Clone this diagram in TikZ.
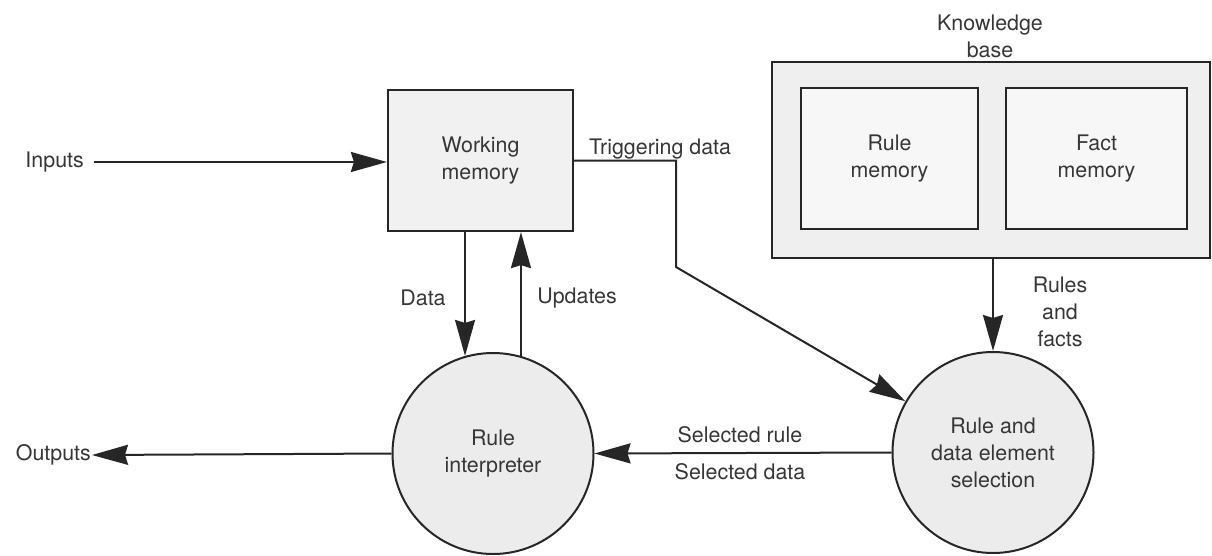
\documentclass[tikz,border=0pt]{standalone}
\usepackage{fontspec}
\setmainfont{TeX Gyre Heros}
\usetikzlibrary{arrows.meta,calc}
\definecolor{ink}{HTML}{262626}
\definecolor{txt}{HTML}{363636}
\definecolor{boxfill}{HTML}{F1F1F1}
\definecolor{kbfill}{HTML}{EFEFEF}
\definecolor{innerfill}{HTML}{F7F7F7}
\definecolor{discfill}{HTML}{ECECEC}
\tikzset{
  every node/.style={font=\fontsize{21.4}{27}\selectfont, text=txt},
  store/.style={draw=ink, line width=2.2pt, rectangle, inner sep=0pt, align=center},
  process/.style={draw=ink, line width=2pt, circle, fill=discfill, minimum size=201pt, inner sep=0pt, align=center},
  lbl/.style={align=center, inner sep=2pt},
  flow/.style={draw=ink, line width=2pt, -{Stealth[length=36pt,width=20pt,inset=3pt]}},
  wire/.style={draw=ink, line width=2pt}
}
\begin{document}
\begin{tikzpicture}[x=1pt, y=-1pt]
\useasboundingbox (0,0) rectangle (1212,555);

% stores
\node[store, fill=boxfill, minimum width=185pt, minimum height=141pt] (wm) at (480.5,160.5) {Working\\memory};
\node[store, fill=kbfill, minimum width=438pt, minimum height=196pt] (kb) at (991,160) {};
\node[store, fill=innerfill, minimum width=177pt, minimum height=141pt] (rm) at (889.5,158.5) {Rule\\memory};
\node[store, fill=innerfill, minimum width=181pt, minimum height=141pt] (fm) at (1096.5,158.5) {Fact\\memory};
\node[lbl] (kblabel) at (990,36) {Knowledge\\base};

% processes
\node[process] (ri) at (493,453.5) {Rule\\interpreter};
\node[process] (sel) at (993,452.5) {Rule and\\data element\\selection};

% external ends
\node[lbl, anchor=east, inner xsep=10pt] (in) at (94,162) {Inputs};
\node[lbl, anchor=east, inner xsep=1pt] (out) at (92,455) {Outputs};

% flow labels
\node[lbl] (trig) at (660,149) {Triggering data};
\node[lbl] (datal) at (423,298) {Data};
\node[lbl] (updl) at (577,298) {Updates};
\node[lbl] (rfl) at (1060,312) {Rules\\and\\facts};
\node[lbl] (srl) at (740,435) {Selected rule};
\node[lbl] (sdl) at (740,472) {Selected data};

% connectors
\draw[flow] (in.east) -- (in.east -| wm.west);
\draw[flow] (ri.west) -- (out.east);
\draw[flow] (ri.106.9 |- wm.south) -- (ri.106.9);
\draw[flow] (ri.74.9) -- (ri.74.9 |- wm.south);
\draw[flow] (kb.south -| sel.north) -- (sel.north);
\coordinate (tbend) at (676,267);
\draw[flow] (wm.east) -| (tbend) -- (sel);
\draw[flow] (sel.west) -- (ri.east);
\end{tikzpicture}
\end{document}
